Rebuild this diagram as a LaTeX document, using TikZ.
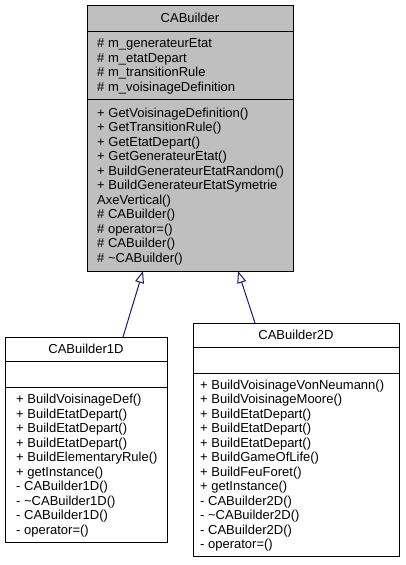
\documentclass[tikz,border=0pt]{standalone}
\usepackage{fontspec}
\setmainfont{Liberation Sans}
\usetikzlibrary{arrows.meta}
\definecolor{boxgrey}{HTML}{BFBFBF}
\definecolor{edgeblue}{HTML}{191970}
\begin{document}
\begin{tikzpicture}[x=1pt,y=-1pt,
  classbox/.style={draw=black, line width=1pt, anchor=north west, inner sep=0pt, outer sep=0pt},
  member/.style={anchor=base west, inner sep=0pt, font=\fontsize{13}{14.5}\selectfont},
  ctitle/.style={anchor=base, inner sep=0pt, font=\fontsize{13}{14.5}\selectfont},
  sepline/.style={draw=black, line width=1pt},
  inherit/.style={draw=edgeblue, line width=1pt, -{Triangle[open, length=12pt, width=9pt, fill=white]}}
]
\useasboundingbox (0,0) rectangle (405,565);
\fill[white] (0,0) rectangle (405,565);

% CABuilder
\node[classbox, fill=boxgrey, minimum width=206pt, minimum height=266pt] (cab) at (87,5) {};
\draw[sepline] (87,31) -- (293,31);
\draw[sepline] (87,99) -- (293,99);
\node[ctitle] (cabt) at (190,22.5) {CABuilder};
\foreach \t [count=\i] in {\# m\_generateurEtat, \# m\_etatDepart, \# m\_transitionRule, \# m\_voisinageDefinition}
  \node[member] (caba\i) at (97,{47.75+(\i-1)*14.5}) {\t};
\foreach \t [count=\i] in {+ GetVoisinageDefinition(), + GetTransitionRule(), + GetEtatDepart(), + GetGenerateurEtat(), + BuildGenerateurEtatRandom(), + BuildGenerateurEtatSymetrie, AxeVertical(), \# CABuilder(), \# operator=(), \# CABuilder(), \# \textasciitilde CABuilder()}
  \node[member] (cabm\i) at (97,{117+(\i-1)*14.5}) {\t};

% CABuilder1D
\node[classbox, fill=white, minimum width=162pt, minimum height=205pt] (b1d) at (5,337) {};
\draw[sepline] (5,361) -- (167,361);
\draw[sepline] (5,387) -- (167,387);
\node[ctitle] (b1dt) at (86,353.5) {CABuilder1D};
\foreach \t [count=\i] in {+ BuildVoisinageDef(), + BuildEtatDepart(), + BuildEtatDepart(), + BuildEtatDepart(), + BuildElementaryRule(), + getInstance(), - CABuilder1D(), - \textasciitilde CABuilder1D(), - CABuilder1D(), - operator=()}
  \node[member] (b1dm\i) at (16,{403.75+(\i-1)*14.5}) {\t};

% CABuilder2D
\node[classbox, fill=white, minimum width=206pt, minimum height=233pt] (b2d) at (193,323) {};
\draw[sepline] (193,347) -- (399,347);
\draw[sepline] (193,373) -- (399,373);
\node[ctitle] (b2dt) at (296,339.5) {CABuilder2D};
\foreach \t [count=\i] in {+ BuildVoisinageVonNeumann(), + BuildVoisinageMoore(), + BuildEtatDepart(), + BuildEtatDepart(), + BuildEtatDepart(), + BuildGameOfLife(), + BuildFeuForet(), + getInstance(), - CABuilder2D(), - \textasciitilde CABuilder2D(), - CABuilder2D(), - operator=()}
  \node[member] (b2dm\i) at (200,{389.25+(\i-1)*14.5}) {\t};

% inheritance
\draw[inherit] ([xshift=118pt]b1d.north west) -- ([xshift=56pt]cab.south west);
\draw[inherit] ([xshift=62pt]b2d.north west) -- ([xshift=151pt]cab.south west);
\end{tikzpicture}
\end{document}
